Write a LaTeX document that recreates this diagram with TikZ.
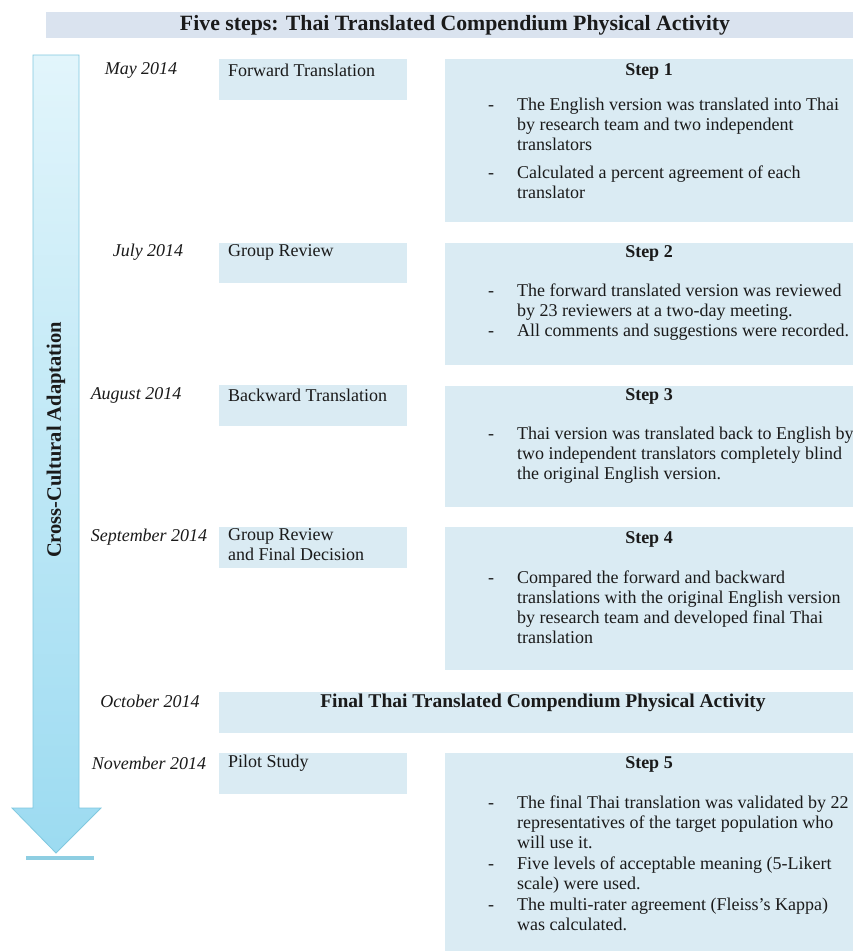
\documentclass[tikz,border=0pt]{standalone}
\usepackage{fontspec}
\setmainfont{Liberation Serif}
\usepackage{array}
\definecolor{boxblue}{HTML}{DAEBF3}
\definecolor{titleblue}{HTML}{DAE3EF}
\definecolor{arrowtop}{HTML}{E2F5FB}
\definecolor{arrowbot}{HTML}{9CDBF1}
\definecolor{arrowline}{HTML}{80C8DF}
\definecolor{barblue}{HTML}{8ECEE2}
\definecolor{ink}{HTML}{1A1A1A}
\begin{document}
\begin{tikzpicture}[x=1pt,y=-1pt,
  panel/.style={fill=boxblue,draw=none,inner sep=0pt,anchor=north west},
  datelbl/.style={font=\fontsize{18}{20}\selectfont\itshape,text=ink,inner sep=0pt},
  actlbl/.style={font=\fontsize{18}{20}\selectfont,text=ink,inner sep=0pt,anchor=west,align=left},
  stephead/.style={font=\fontsize{18}{20}\selectfont\bfseries,text=ink,inner sep=0pt},
  steplist/.style={font=\fontsize{18}{20}\selectfont,text=ink,inner sep=0pt,anchor=north west}
]
\useasboundingbox (0,0) rectangle (853,951);
\fill[white] (0,0) rectangle (853,951);

% title
\node[panel,fill=titleblue,minimum width=807pt,minimum height=26pt] (title) at (46,12) {};
\node[font=\fontsize{21.8}{24}\selectfont\bfseries,text=ink,inner sep=0pt] (titletxt) at (455,25)
  {Five steps: Thai Translated Compendium Physical Activity};

% big arrow
\shade[top color=arrowtop,bottom color=arrowbot,draw=arrowline,line width=0.8pt]
  (33,55) -- (79,55) -- (79,808) -- (101,808) -- (56,853) -- (12,808) -- (33,808) -- cycle;
\fill[barblue] (26,856) rectangle (94,860);
\node[rotate=90,font=\fontsize{20.5}{22}\selectfont\bfseries,text=ink,inner sep=0pt] (cca) at (56,440)
  {Cross-Cultural Adaptation};

% activity boxes
\node[panel,minimum width=188pt,minimum height=41pt] (a1) at (219,59) {};
\node[panel,minimum width=188pt,minimum height=40pt] (a2) at (219,243) {};
\node[panel,minimum width=188pt,minimum height=41pt] (a3) at (219,385) {};
\node[panel,minimum width=188pt,minimum height=41pt] (a4) at (219,527) {};
\node[panel,minimum width=634pt,minimum height=41pt] (a5) at (219,692) {};
\node[panel,minimum width=188pt,minimum height=41pt] (a6) at (219,753) {};

% step boxes
\node[panel,minimum width=408pt,minimum height=163pt] (s1) at (445,59) {};
\node[panel,minimum width=408pt,minimum height=122pt] (s2) at (445,243) {};
\node[panel,minimum width=408pt,minimum height=121pt] (s3) at (445,386) {};
\node[panel,minimum width=408pt,minimum height=143pt] (s4) at (445,527) {};
\node[panel,minimum width=408pt,minimum height=198pt] (s5) at (445,753) {};

% dates
\node[datelbl] (d1) at (141,70) {May 2014};
\node[datelbl] (d2) at (148,252) {July 2014};
\node[datelbl] (d3) at (136,395) {August 2014};
\node[datelbl] (d4) at (149,537) {September 2014};
\node[datelbl] (d5) at (150,701) {October 2014};
\node[datelbl] (d6) at (149,763) {November 2014};

% activity texts
\node[actlbl] (t1) at (228,70) {Forward Translation};
\node[actlbl] (t2) at (228,252) {Group Review};
\node[actlbl] (t3) at (228,395) {Backward Translation};
\node[actlbl,anchor=north west] (t4) at (228,528) {Group Review\\and Final Decision};
\node[font=\fontsize{19.5}{22}\selectfont\bfseries,text=ink,inner sep=0pt] (t5) at (543,703)
  {Final Thai Translated Compendium Physical Activity};
\node[actlbl] (t6) at (228,763) {Pilot Study};

% step headers
\node[stephead] (h1) at (649,71) {Step 1};
\node[stephead] (h2) at (649,253) {Step 2};
\node[stephead] (h3) at (649,396) {Step 3};
\node[stephead] (h4) at (649,539) {Step 4};
\node[stephead] (h5) at (649,764) {Step 5};

% step lists
\node[steplist] (l1) at (488,96) {\begin{tabular}{@{}p{29pt}@{}l@{}}
- & The English version was translated into Thai\\
  & by research team and two independent\\
  & translators\\[8pt]
- & Calculated a percent agreement of each\\
  & translator
\end{tabular}};
\node[steplist] (l2) at (488,282) {\begin{tabular}{@{}p{29pt}@{}l@{}}
- & The forward translated version was reviewed\\
  & by 23 reviewers at a two-day meeting.\\
- & All comments and suggestions were recorded.
\end{tabular}};
\node[steplist] (l3) at (488,425) {\begin{tabular}{@{}p{29pt}@{}l@{}}
- & Thai version was translated back to English by\\
  & two independent translators completely blind\\
  & the original English version.
\end{tabular}};
\node[steplist] (l4) at (488,569) {\begin{tabular}{@{}p{29pt}@{}l@{}}
- & Compared the forward and backward\\
  & translations with the original English version\\
  & by research team and developed final Thai\\
  & translation
\end{tabular}};
\node[steplist] (l5) at (488,794) {\begin{tabular}{@{}p{29pt}@{}l@{}}
- & The final Thai translation was validated by 22\\
  & representatives of the target population who\\
  & will use it.\\[1.2pt]
- & Five levels of acceptable meaning (5-Likert\\
  & scale) were used.\\[1.2pt]
- & The multi-rater agreement (Fleiss’s Kappa)\\
  & was calculated.
\end{tabular}};
\end{tikzpicture}
\end{document}
